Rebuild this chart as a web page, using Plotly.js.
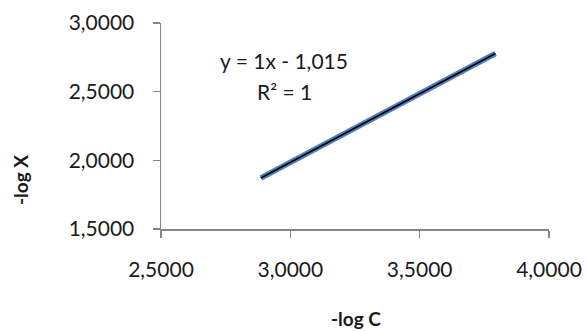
<!DOCTYPE html>
<html>
<head>
<meta charset="utf-8">
<script src="https://cdn.plot.ly/plotly-3.0.1.min.js"></script>
<style>html,body{margin:0;padding:0;background:#fff;}#chart{width:587px;height:331px;}</style>
</head>
<body>
<div id="chart"></div>
<script>
// Data
const xValues = [2.886, 3.793];
const yValues = [1.871, 2.778];
const slope = 1;
const intercept = -1.015;
const xTickVals = [2.5, 3.0, 3.5, 4.0];
const yTickVals = [1.5, 2.0, 2.5, 3.0];
const xTitle = "-log C";
const yTitle = "-log X";
const eqText = "y = 1x - 1,015";
const r2Text = "R² = 1";

const trendY = xValues.map(x => slope * x + intercept);
const FONT = "Lato, 'Open Sans', sans-serif";

const data = [
  {x: xValues, y: yValues, mode: "lines", line: {color: "#4F81BD", width: 5.5}, hoverinfo: "none"},
  {x: xValues, y: trendY, mode: "lines", line: {color: "#000000", width: 1.8}, hoverinfo: "none"}
];

const axisCommon = {
  showgrid: false, zeroline: false, showline: true, linecolor: "#868686", linewidth: 1.5,
  ticks: "outside", ticklen: 7, tickwidth: 1.5, tickcolor: "#868686",
  tickformat: ".4f", tickfont: {family: FONT, size: 21, color: "#1a1a1a"}
};

const layout = {
  width: 587, height: 331,
  margin: {l: 161, r: 38, t: 23, b: 102},
  paper_bgcolor: "#fff", plot_bgcolor: "#fff",
  separators: ",.",
  showlegend: false,
  xaxis: Object.assign({}, axisCommon, {range: [2.5, 4.0], tickvals: xTickVals, ticklabelstandoff: 14}),
  yaxis: Object.assign({}, axisCommon, {range: [1.5, 3.0], tickvals: yTickVals, ticklabelstandoff: 14}),
  annotations: [
    {xref: "paper", yref: "paper", x: (284 - 161) / 388, y: (229 - 60) / 206, text: eqText, showarrow: false,
     xanchor: "center", yanchor: "middle", font: {family: FONT, size: 21, color: "#1a1a1a"}},
    {xref: "paper", yref: "paper", x: (284 - 161) / 388, y: (229 - 92) / 206, text: r2Text, showarrow: false,
     xanchor: "center", yanchor: "middle", font: {family: FONT, size: 21, color: "#1a1a1a"}},
    {xref: "paper", yref: "paper", x: (356 - 161) / 388, y: (229 - 318) / 206, text: "<b>" + xTitle + "</b>", showarrow: false,
     xanchor: "center", yanchor: "middle", font: {family: FONT, size: 19, color: "#1a1a1a"}},
    {xref: "paper", yref: "paper", x: (20 - 161) / 388, y: (229 - 180) / 206, text: "<b>" + yTitle + "</b>", showarrow: false,
     textangle: -90, xanchor: "center", yanchor: "middle", font: {family: FONT, size: 19, color: "#1a1a1a"}}
  ]
};

Plotly.newPlot("chart", data, layout, {displayModeBar: false, staticPlot: true});
</script>
</body>
</html>
